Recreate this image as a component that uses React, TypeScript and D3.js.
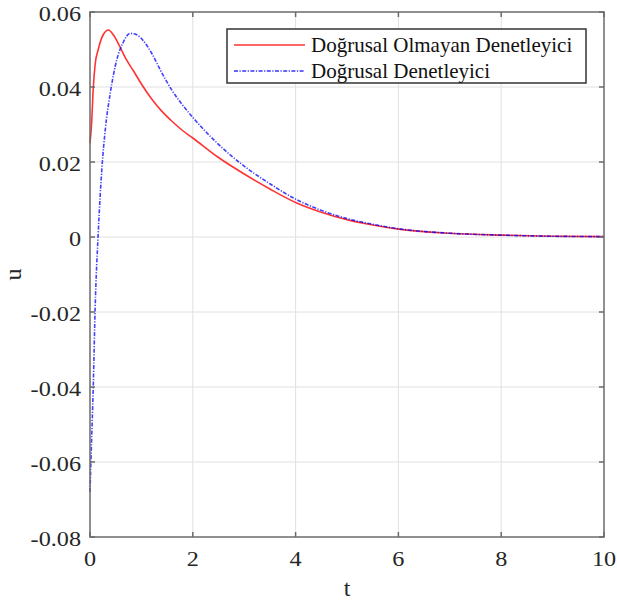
import { useEffect, useRef } from 'react'
import * as d3 from 'd3'

const W = 617
const H = 602
const M = { left: 90, right: 13, top: 12, bottom: 65 }
const FONT = '"Liberation Serif", "Times New Roman", serif'

// Doğrusal Olmayan Denetleyici (red, solid)
const tRed = [0, 0.03, 0.065, 0.1, 0.16, 0.26, 0.36, 0.46, 0.58, 0.7, 0.85, 1.0, 1.2, 1.4, 1.6, 1.8, 2.0, 2.5, 3.0, 3.5, 4.0, 4.5, 5.0, 5.5, 6.0, 7.0, 8.0, 9.0, 10]
const uRed = [0.025, 0.030, 0.040, 0.046, 0.050, 0.054, 0.0552, 0.0538, 0.0508, 0.0475, 0.0442, 0.0408, 0.0368, 0.0335, 0.0308, 0.0284, 0.0264, 0.0212, 0.0168, 0.0128, 0.0092, 0.0066, 0.0046, 0.0032, 0.0021, 0.001, 0.0005, 0.0002, 0.0001]

// Doğrusal Denetleyici (blue, dash-dot)
const tBlue = [0, 0.02, 0.065, 0.1, 0.16, 0.23, 0.3, 0.39, 0.52, 0.65, 0.78, 0.9, 1.04, 1.2, 1.4, 1.6, 1.8, 2.0, 2.5, 3.0, 3.5, 4.0, 4.5, 5.0, 5.5, 6.0, 7.0, 8.0, 9.0, 10]
const uBlue = [-0.068, -0.059, -0.039, -0.019, 0.001, 0.018, 0.029, 0.038, 0.0472, 0.052, 0.0543, 0.054, 0.0523, 0.049, 0.0437, 0.039, 0.0352, 0.0319, 0.0247, 0.0189, 0.0142, 0.0101, 0.0071, 0.0049, 0.0034, 0.0022, 0.001, 0.0005, 0.0002, 0.0001]

const xTicks = [0, 2, 4, 6, 8, 10]
const yTicks = [-0.08, -0.06, -0.04, -0.02, 0, 0.02, 0.04, 0.06]
const legendLabels = ['Doğrusal Olmayan Denetleyici', 'Doğrusal Denetleyici']

const BLUE_DASH = '4 1.5 1.2 1.5'

export default function App() {
  const ref = useRef<SVGSVGElement>(null)

  useEffect(() => {
    if (!ref.current) return
    const svg = d3.select(ref.current)
    svg.selectAll('*').remove()

    const x = d3.scaleLinear().domain([0, 10]).range([M.left, W - M.right])
    const y = d3.scaleLinear().domain([-0.08, 0.06]).range([H - M.bottom, M.top])
    const [x0, x1] = x.range()
    const [y0, y1] = y.range()

    svg.append('rect').attr('width', W).attr('height', H).attr('fill', 'white')

    // grid
    const grid = svg.append('g').attr('stroke', '#e0e0e0').attr('stroke-width', 1)
    xTicks.slice(1, -1).forEach((t) => {
      grid.append('line').attr('x1', x(t)).attr('x2', x(t)).attr('y1', y1).attr('y2', y0)
    })
    yTicks.slice(1, -1).forEach((v) => {
      grid.append('line').attr('x1', x0).attr('x2', x1).attr('y1', y(v)).attr('y2', y(v))
    })

    // lines
    const line = (ts: number[], us: number[]) =>
      d3.line<number>().x((_, i) => x(ts[i])).y((d) => y(d)).curve(d3.curveMonotoneX)(us)

    svg.append('path')
      .attr('d', line(tRed, uRed))
      .attr('fill', 'none')
      .attr('stroke', '#ff0000')
      .attr('stroke-opacity', 0.8)
      .attr('stroke-width', 1.6)

    svg.append('path')
      .attr('d', line(tBlue, uBlue))
      .attr('fill', 'none')
      .attr('stroke', '#0000ff')
      .attr('stroke-opacity', 0.75)
      .attr('stroke-width', 1.6)
      .attr('stroke-dasharray', BLUE_DASH)

    // axes box & ticks
    const ax = svg.append('g').attr('stroke', '#6b6b6b').attr('stroke-width', 1.5)
    ax.append('rect')
      .attr('x', x0).attr('y', y1)
      .attr('width', x1 - x0).attr('height', y0 - y1)
      .attr('fill', 'none')
    const tl = 5
    xTicks.forEach((t) => {
      ax.append('line').attr('x1', x(t)).attr('x2', x(t)).attr('y1', y0).attr('y2', y0 - tl)
      ax.append('line').attr('x1', x(t)).attr('x2', x(t)).attr('y1', y1).attr('y2', y1 + tl)
    })
    yTicks.forEach((v) => {
      ax.append('line').attr('x1', x0).attr('x2', x0 + tl).attr('y1', y(v)).attr('y2', y(v))
      ax.append('line').attr('x1', x1).attr('x2', x1 - tl).attr('y1', y(v)).attr('y2', y(v))
    })

    // tick labels (slightly wide, like the reference)
    xTicks.forEach((t) => {
      svg.append('text')
        .attr('transform', `translate(${x(t)}, ${y0 + 29}) scale(1.1, 1)`)
        .attr('text-anchor', 'middle')
        .attr('font-family', FONT).attr('font-size', 22)
        .attr('fill', '#262626')
        .text(String(t))
    })
    yTicks.forEach((v) => {
      svg.append('text')
        .attr('transform', `translate(${x0 - 9}, ${y(v) + 1}) scale(1.1, 1)`)
        .attr('text-anchor', 'end')
        .attr('dominant-baseline', 'central')
        .attr('font-family', FONT).attr('font-size', 22)
        .attr('fill', '#262626')
        .text(v === 0 ? '0' : d3.format('.2f')(v).replace('−', '-'))
    })

    // axis labels
    svg.append('text')
      .attr('x', (x0 + x1) / 2).attr('y', H - 6)
      .attr('text-anchor', 'middle')
      .attr('font-family', FONT).attr('font-size', 24)
      .attr('fill', '#262626')
      .text('t')
    svg.append('text')
      .attr('transform', `translate(21, ${(y0 + y1) / 2}) rotate(-90)`)
      .attr('text-anchor', 'middle')
      .attr('font-family', FONT).attr('font-size', 24)
      .attr('fill', '#262626')
      .text('u')

    // legend
    const lg = svg.append('g')
    lg.append('rect')
      .attr('x', 227).attr('y', 29).attr('width', 359).attr('height', 54)
      .attr('fill', 'white').attr('stroke', '#333').attr('stroke-width', 1.5)
    const styles = [
      { color: '#ff0000', dash: null },
      { color: '#0000ff', dash: BLUE_DASH },
    ]
    legendLabels.forEach((lab, i) => {
      const ly = 45 + i * 26
      lg.append('line')
        .attr('x1', 234).attr('x2', 305).attr('y1', ly).attr('y2', ly)
        .attr('stroke', styles[i].color).attr('stroke-opacity', 0.8)
        .attr('stroke-width', 1.6)
        .attr('stroke-dasharray', styles[i].dash)
      lg.append('text')
        .attr('x', 311).attr('y', ly)
        .attr('dominant-baseline', 'central')
        .attr('font-family', FONT).attr('font-size', 21)
        .attr('fill', '#111')
        .text(lab)
    })
  }, [])

  return (
    <svg ref={ref} width={W} height={H} style={{ position: 'fixed', left: 0, top: 0, display: 'block' }} />
  )
}
